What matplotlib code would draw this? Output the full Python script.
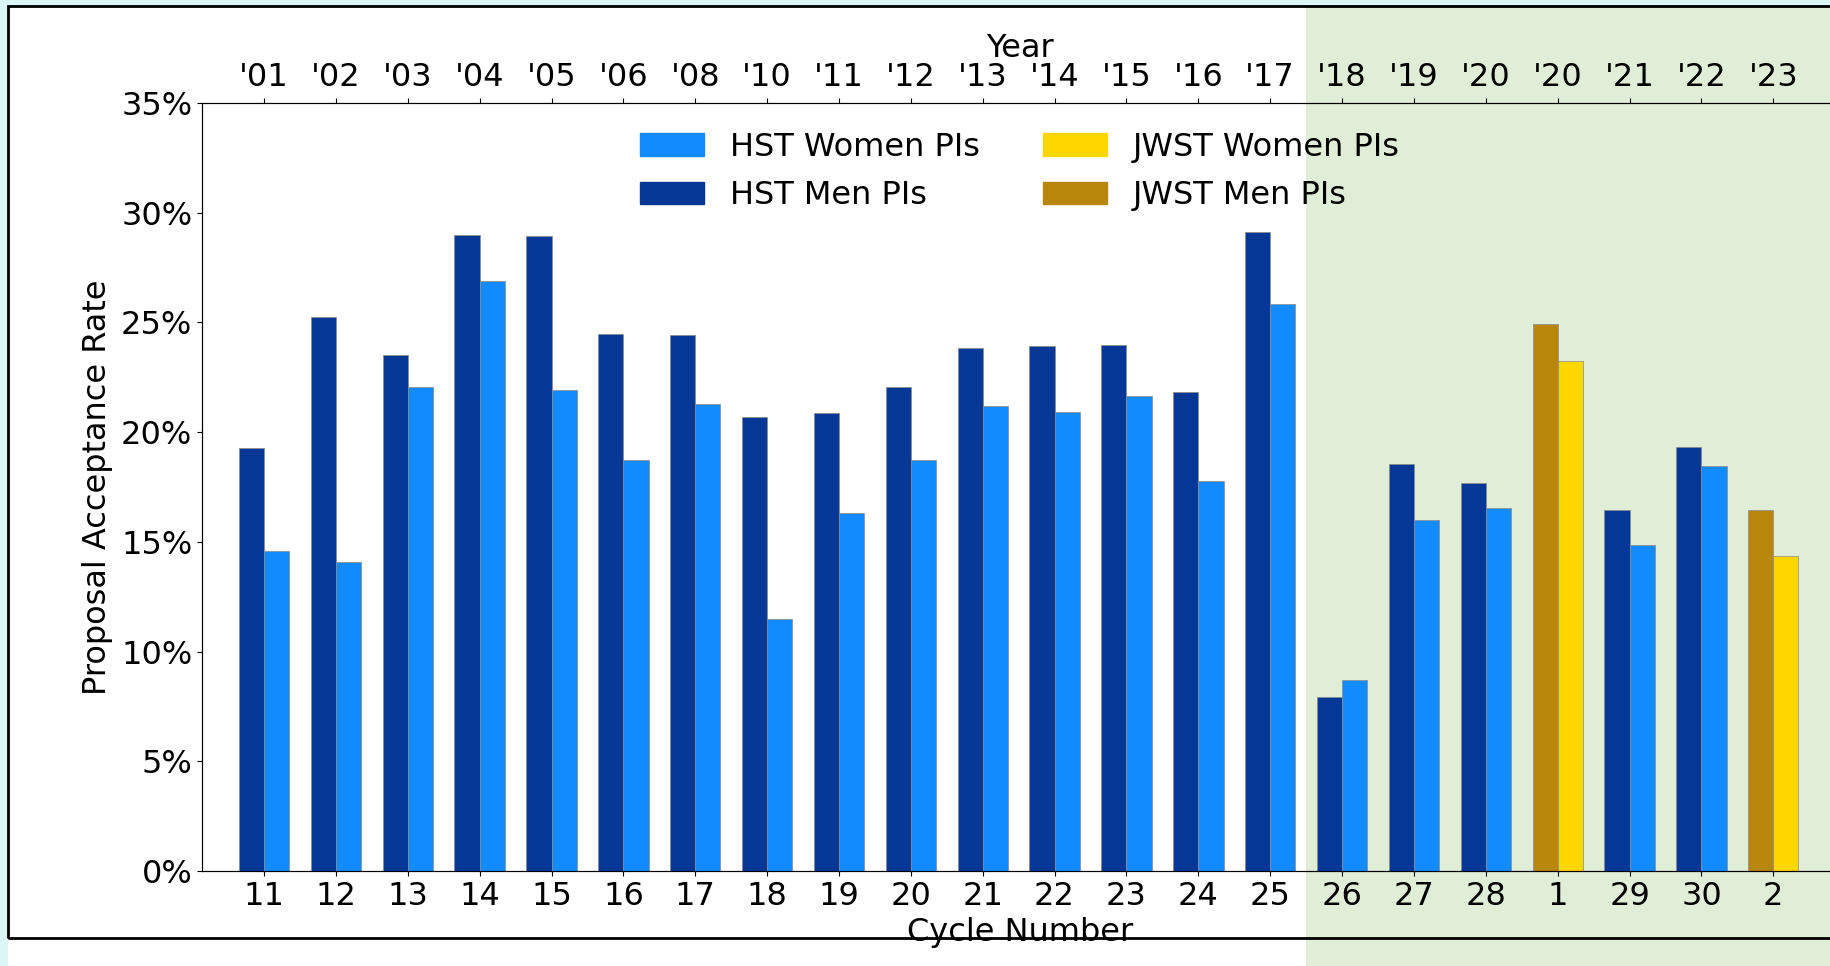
import numpy as np
import matplotlib
matplotlib.use("Agg")
import matplotlib.pyplot as plt
import matplotlib.transforms as mtransforms
from matplotlib.patches import Rectangle, Patch
from matplotlib.ticker import PercentFormatter

# cycle labels (bottom axis) and year labels (top axis)
cycles = ['11', '12', '13', '14', '15', '16', '17', '18', '19', '20', '21',
          '22', '23', '24', '25', '26', '27', '28', '1', '29', '30', '2']
years = ["'01", "'02", "'03", "'04", "'05", "'06", "'08", "'10", "'11", "'12", "'13",
         "'14", "'15", "'16", "'17", "'18", "'19", "'20", "'20", "'21", "'22", "'23"]
telescope = ['HST'] * 18 + ['JWST'] + ['HST'] * 2 + ['JWST']

# acceptance rate in percent
men_rate = [19.26, 25.27, 23.51, 28.99, 28.94, 24.47, 24.41, 20.69, 20.85, 22.07, 23.83,
            23.94, 23.99, 21.81, 29.10, 7.93, 18.56, 17.66, 24.95, 16.44, 19.31, 16.44]
women_rate = [14.57, 14.10, 22.07, 26.91, 21.91, 18.72, 21.28, 11.49, 16.33, 18.72, 21.17,
              20.90, 21.65, 17.77, 25.85, 8.72, 16.01, 16.54, 23.24, 14.84, 18.46, 14.36]

hst_women_col = '#128bff'
hst_men_col = '#053896'
jwst_women_col = '#ffd700'
jwst_men_col = '#b8860b'

plt.rcParams['font.size'] = 23

W, H = 1831, 966
fig = plt.figure(figsize=(W / 100, H / 100), dpi=100, facecolor='#dcf5f5')
ax = fig.add_axes([202 / W, 1 - 871 / H, (1838 - 202) / W, (871 - 103) / H])
ax.set_facecolor('none')

x = np.arange(len(cycles))
width = 0.35
men_cols = [hst_men_col if t == 'HST' else jwst_men_col for t in telescope]
women_cols = [hst_women_col if t == 'HST' else jwst_women_col for t in telescope]
ax.bar(x - width / 2, men_rate, width, color=men_cols, edgecolor='#8a8a8a', linewidth=0.5)
ax.bar(x + width / 2, women_rate, width, color=women_cols, edgecolor='#8a8a8a', linewidth=0.5)

ax.set_xlim(-0.863, 21.9)
ax.set_ylim(0, 35)
ax.set_yticks(np.arange(0, 36, 5))
ax.yaxis.set_major_formatter(PercentFormatter(decimals=0))
ax.set_xticks(x)
ax.set_xticklabels(cycles)
ax.set_xlabel('Cycle Number')
ax.set_ylabel('Proposal Acceptance Rate', labelpad=6)

ax2 = ax.twiny()
ax2.set_xlim(ax.get_xlim())
ax2.set_xticks(x)
ax2.set_xticklabels(years)
ax2.set_xlabel('Year')

handles = [Patch(color=hst_women_col, label='HST Women PIs'),
           Patch(color=hst_men_col, label='HST Men PIs'),
           Patch(color=jwst_women_col, label='JWST Women PIs'),
           Patch(color=jwst_men_col, label='JWST Men PIs')]
ax.legend(handles=handles, ncol=2, loc='upper center', frameon=False, labelspacing=0.55)

# white panel with black frame, and shaded JWST-era region
frame_x0, frame_y0 = 8 / W, 1 - 938 / H
frame_top = 1 - 6 / H
fig.add_artist(Rectangle((frame_x0, 0), 1.0, frame_top, transform=fig.transFigure,
                         facecolor='white', edgecolor='none', zorder=-3))
trans = mtransforms.blended_transform_factory(ax.transData, fig.transFigure)
fig.add_artist(Rectangle((14.5, 0), 20, frame_top, transform=trans,
                         facecolor='#e0eed8', edgecolor='none', zorder=-2, clip_on=False))
fig.add_artist(Rectangle((frame_x0, frame_y0), 1.0, frame_top - frame_y0, transform=fig.transFigure,
                         fill=False, edgecolor='black', linewidth=2, zorder=-1))

plt.savefig('out.png', dpi=100, facecolor=fig.get_facecolor())
